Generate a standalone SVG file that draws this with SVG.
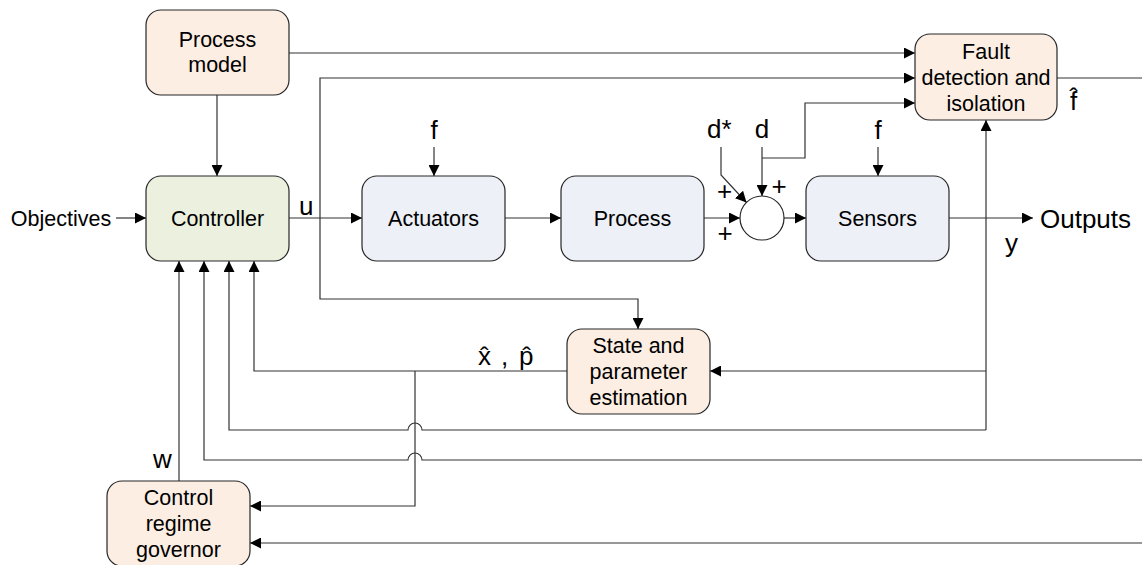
<svg xmlns="http://www.w3.org/2000/svg" width="1142" height="565" viewBox="0 0 1142 565">
  <defs>
    <marker id="arrow" viewBox="0 0 10 10" refX="10" refY="5" markerWidth="11" markerHeight="11" markerUnits="userSpaceOnUse" orient="auto">
      <path d="M0,0 L10,5 L0,10 z" fill="#000"/>
    </marker>
    <style>
      .box { stroke: #262626; stroke-width: 1.2; }
      .peach { fill: #fdeee3; }
      .green { fill: #ebf1de; }
      .blue { fill: #edf0f6; }
      .lbl { font-family: "Liberation Sans", Arial, sans-serif; font-size: 21.5px; fill: #000; text-anchor: middle; }
      .sym { font-family: "Liberation Sans", Arial, sans-serif; font-size: 26px; fill: #000; }
      .wire { fill: none; stroke: #333; stroke-width: 1.2; }
      .arr { marker-end: url(#arrow); }
    </style>
  </defs>
  <rect width="1142" height="565" fill="#fff"/>

  <!-- connectors -->
  <g id="connectors">
    <path class="wire arr" d="M116,218 H146"/>
    <path class="wire arr" d="M217,95 V176"/>
    <path class="wire arr" d="M289,53 H915"/>
    <path class="wire arr" d="M289,218 H362"/>
    <path class="wire arr" d="M320,218 V78 H915"/>
    <path class="wire arr" d="M320,218 V299 H638 V329"/>
    <path class="wire arr" d="M505,218 H561"/>
    <path class="wire arr" d="M704,218 H740"/>
    <path class="wire arr" d="M784,218 H806"/>
    <path class="wire arr" d="M434,147 V176"/>
    <path class="wire arr" d="M878,147 V176"/>
    <path class="wire arr" d="M721,147 V175 L746.5,202.5"/>
    <path class="wire arr" d="M762,147 V196"/>
    <path class="wire arr" d="M762,158 H805 V103 H915"/>
    <path class="wire arr" d="M949,218 H1033"/>
    <path class="wire" d="M1057,78 H1142"/>
    <path class="wire arr" d="M986,430 V120"/>
    <path class="wire arr" d="M986,371 H710"/>
    <path class="wire arr" d="M986,430 H422 A7,7 0 0 0 408,430 H229 V261"/>
    <path class="wire arr" d="M1142,460 H422 A7,7 0 0 0 408,460 H204 V261"/>
    <path class="wire arr" d="M567,371 H254 V261"/>
    <path class="wire arr" d="M415,371 V506 H250"/>
    <path class="wire arr" d="M1142,543 H250"/>
    <path class="wire arr" d="M179,481 V261"/>
  </g>

  <!-- blocks -->
  <g id="process-model">
    <rect class="box peach" x="146" y="10" width="143" height="85" rx="15"/>
    <text class="lbl" x="217.5" y="47">Process</text>
    <text class="lbl" x="217.5" y="72">model</text>
  </g>
  <g id="controller">
    <rect class="box green" x="146" y="176" width="143" height="85" rx="15"/>
    <text class="lbl" x="217.5" y="226">Controller</text>
  </g>
  <g id="actuators">
    <rect class="box blue" x="362" y="176" width="143" height="85" rx="15"/>
    <text class="lbl" x="433.5" y="226">Actuators</text>
  </g>
  <g id="process">
    <rect class="box blue" x="561" y="176" width="143" height="85" rx="15"/>
    <text class="lbl" x="632.5" y="226">Process</text>
  </g>
  <g id="sum">
    <circle class="box" cx="762" cy="218" r="22" fill="#fff"/>
  </g>
  <g id="sensors">
    <rect class="box blue" x="806" y="176" width="143" height="85" rx="15"/>
    <text class="lbl" x="877.5" y="226">Sensors</text>
  </g>
  <g id="fault-detection">
    <rect class="box peach" x="915" y="34" width="142" height="86" rx="15"/>
    <text class="lbl" x="986" y="59">Fault</text>
    <text class="lbl" x="986" y="85">detection and</text>
    <text class="lbl" x="986" y="111">isolation</text>
  </g>
  <g id="state-estimation">
    <rect class="box peach" x="567" y="329" width="143" height="85" rx="15"/>
    <text class="lbl" x="638.5" y="353">State and</text>
    <text class="lbl" x="638.5" y="379">parameter</text>
    <text class="lbl" x="638.5" y="405">estimation</text>
  </g>
  <g id="regime-governor">
    <rect class="box peach" x="107" y="481" width="143" height="85" rx="15"/>
    <text class="lbl" x="178.5" y="505">Control</text>
    <text class="lbl" x="178.5" y="531">regime</text>
    <text class="lbl" x="178.5" y="557">governor</text>
  </g>

  <!-- signal labels -->
  <g id="labels">
    <text class="lbl" x="61" y="226">Objectives</text>
    <text class="sym" x="299" y="215">u</text>
    <text class="sym" x="434" y="139" text-anchor="middle">f</text>
    <text class="sym" x="878" y="139" text-anchor="middle">f</text>
    <text class="sym" x="707" y="138">d*</text>
    <text class="sym" x="762" y="138" text-anchor="middle">d</text>
    <text class="sym" x="724.5" y="200" text-anchor="middle">+</text>
    <text class="sym" x="779" y="195" text-anchor="middle">+</text>
    <text class="sym" x="725" y="242" text-anchor="middle">+</text>
    <text class="sym" x="1040" y="228">Outputs</text>
    <text class="sym" x="1005" y="252">y</text>
    <text class="sym" x="1070" y="110">f̂</text>
    <text class="sym" x="153" y="468">w</text>
    <text class="sym" y="365"><tspan x="478">x̂</tspan><tspan x="501">,</tspan><tspan x="519">p̂</tspan></text>
  </g>
</svg>
